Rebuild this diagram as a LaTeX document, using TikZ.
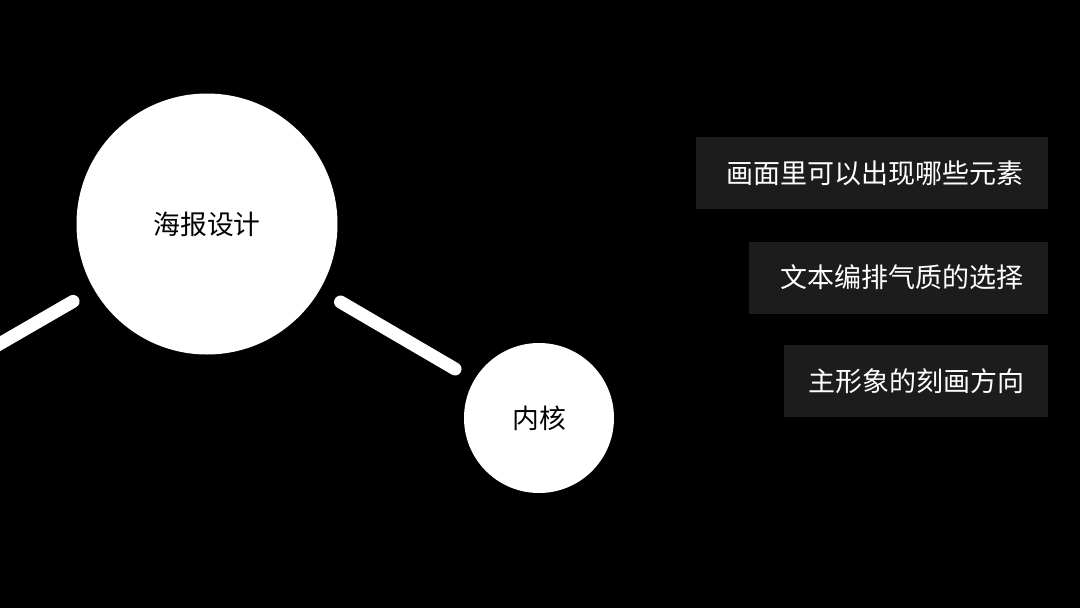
\documentclass[tikz,border=0pt]{standalone}
\usepackage{fontspec}
\setmainfont{Noto Sans CJK SC}
\definecolor{boxgray}{HTML}{1C1C1C}
\begin{document}
\begin{tikzpicture}[x=1pt,y=-1pt,
  bubble/.style={circle,fill=white,draw=none,inner sep=0pt,text=black,font=\fontsize{26.8}{30}\selectfont},
  tagbox/.style={fill=boxgray,draw=none,text=white,anchor=east,minimum height=72pt,inner sep=0pt,font=\fontsize{27}{30}\selectfont},
  conn/.style={draw=white,line width=13pt,line cap=round}]
\fill[black] (0,0) rectangle (1080,608);
\useasboundingbox (0,0) rectangle (1080,608);
\clip (0,0) rectangle (1080,608);
\node[bubble,minimum size=261pt] (big) at (207,224) {海报设计};
\node[bubble,minimum size=150pt] (core) at (539,418) {内核};
\coordinate (offleft) at (-139,424);
\draw[conn,shorten <=24pt,shorten >=22pt] (big) -- (core);
\draw[conn,shorten <=24pt] (big) -- (offleft);
\node[tagbox,minimum width=352pt] (t1) at (1048,173) {\hspace*{6pt}画面里可以出现哪些元素};
\node[tagbox,minimum width=299pt] (t2) at (1048,277.5) {\hspace*{7pt}文本编排气质的选择};
\node[tagbox,minimum width=264pt] (t3) at (1048,381) {\hspace*{2pt}主形象的刻画方向};
\end{tikzpicture}
\end{document}
